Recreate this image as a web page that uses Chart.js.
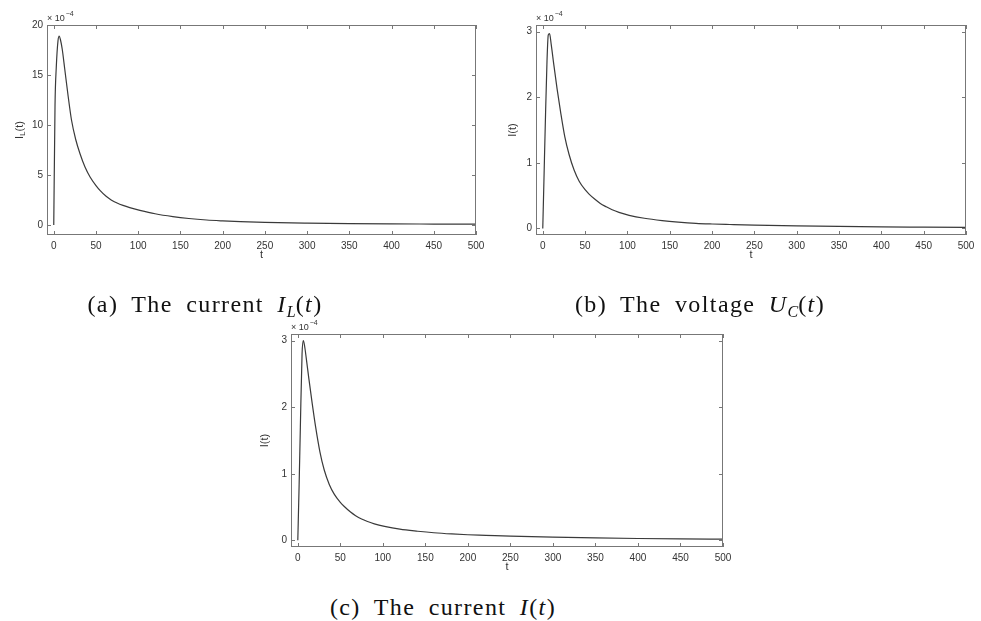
<!DOCTYPE html>
<html>
<head>
<meta charset="utf-8">
<script src="https://cdn.jsdelivr.net/npm/chart.js@4.4.1/dist/chart.umd.min.js"></script>
<style>
  html, body { margin: 0; padding: 0; background: #fff; }
  body { width: 981px; height: 621px; position: relative; overflow: hidden; }
  .panel { position: absolute; }
  .caption {
    position: absolute;
    font-family: "Liberation Serif", "DejaVu Serif", serif;
    font-size: 24px;
    color: #111;
    white-space: nowrap;
    transform: translate(-50%, -50%);
    letter-spacing: 1.4px;
    word-spacing: 6px;
  }
  .caption sub { font-size: 16px; vertical-align: -5px; line-height: 0; letter-spacing: 0; }
</style>
</head>
<body>
<div class="panel" style="left:0px;top:0px;width:490px;height:270px;"><canvas id="chartA"></canvas></div>
<div class="panel" style="left:490px;top:0px;width:491px;height:270px;"><canvas id="chartB"></canvas></div>
<div class="panel" style="left:230px;top:310px;width:510px;height:270px;"><canvas id="chartC"></canvas></div>

<div class="caption" style="left:205px;top:304px;">(a) The current <i>I</i><sub><i>L</i></sub>(<i>t</i>)</div>
<div class="caption" style="left:700px;top:304px;">(b) The voltage <i>U</i><sub><i>C</i></sub>(<i>t</i>)</div>
<div class="caption" style="left:443px;top:607px;">(c) The current <i>I</i>(<i>t</i>)</div>

<script>
// time samples
const tValues = [0, 1.5, 3, 5, 6.5, 8, 10, 13, 17, 21, 26, 31, 37, 43, 50, 55, 62, 68, 75, 82, 90, 102, 120, 141, 160, 181, 200, 221, 250, 300, 350, 400, 450, 500];

// values in units of 10^-4
const currentIL = [0, 12, 15.8, 18.4, 18.9, 18.5, 17.6, 15.6, 12.9, 10.5, 8.55, 7.15, 5.8, 4.8, 3.94, 3.44, 2.87, 2.51, 2.2, 1.96, 1.74, 1.47, 1.125, 0.84, 0.65, 0.5, 0.41, 0.33, 0.26, 0.19, 0.143, 0.115, 0.096, 0.08];
const voltageUC = [0, 0.8, 1.6, 2.55, 2.95, 2.97, 2.8, 2.5, 2.12, 1.78, 1.4, 1.13, 0.89, 0.72, 0.59, 0.52, 0.44, 0.38, 0.33, 0.285, 0.245, 0.2, 0.155, 0.12, 0.097, 0.078, 0.068, 0.06, 0.05, 0.038, 0.03, 0.024, 0.02, 0.016];
const currentI = [0, 0.8, 1.7, 2.8, 3.0, 2.92, 2.73, 2.43, 2.05, 1.7, 1.33, 1.06, 0.84, 0.69, 0.57, 0.505, 0.425, 0.37, 0.32, 0.283, 0.248, 0.21, 0.168, 0.137, 0.114, 0.096, 0.084, 0.075, 0.062, 0.047, 0.036, 0.028, 0.022, 0.018];

const xTicks = [0, 50, 100, 150, 200, 250, 300, 350, 400, 450, 500];
const yTicksIL = [0, 5, 10, 15, 20];
const yTicksSmall = [0, 1, 2, 3];

const tickFont = { family: "'Liberation Sans', Arial, sans-serif", size: 10 };
const inkColor = "#333";
const boxColor = "#777";

// box with inward ticks on all sides, axis titles and the exponent note
const framePlugin = {
  id: "frame",
  afterDraw(chart, args, opts) {
    const { ctx, chartArea: a, scales } = chart;
    const x = scales.x, y = scales.y;
    ctx.save();
    ctx.strokeStyle = boxColor;
    ctx.lineWidth = 1;
    ctx.strokeRect(a.left + 0.5, a.top + 0.5, a.right - a.left - 1, a.bottom - a.top - 1);
    ctx.beginPath();
    x.ticks.forEach((t) => {
      const px = Math.round(x.getPixelForValue(t.value)) + 0.5;
      ctx.moveTo(px, a.bottom); ctx.lineTo(px, a.bottom - 4);
      ctx.moveTo(px, a.top); ctx.lineTo(px, a.top + 4);
    });
    y.ticks.forEach((t) => {
      const py = Math.round(y.getPixelForValue(t.value)) + 0.5;
      ctx.moveTo(a.left, py); ctx.lineTo(a.left + 4, py);
      ctx.moveTo(a.right, py); ctx.lineTo(a.right - 4, py);
    });
    ctx.stroke();

    ctx.fillStyle = inkColor;
    ctx.font = "11px 'Liberation Sans', Arial, sans-serif";
    ctx.textAlign = "center";
    ctx.textBaseline = "middle";
    ctx.fillText("t", (a.left + a.right) / 2, a.bottom + 20);

    // y title, rotated
    ctx.save();
    ctx.translate(a.left - opts.yTitleOffset, (a.top + a.bottom) / 2);
    ctx.rotate(-Math.PI / 2);
    ctx.textAlign = "left";
    const parts = opts.yTitle;
    let w = 0;
    parts.forEach((p) => { ctx.font = (p.sub ? "8px" : "11px") + " 'Liberation Sans', Arial, sans-serif"; w += ctx.measureText(p.text).width; });
    let cx = -w / 2;
    parts.forEach((p) => {
      ctx.font = (p.sub ? "8px" : "11px") + " 'Liberation Sans', Arial, sans-serif";
      ctx.fillText(p.text, cx, p.sub ? 3 : 0);
      cx += ctx.measureText(p.text).width;
    });
    ctx.restore();

    // exponent note
    ctx.textAlign = "left";
    ctx.textBaseline = "alphabetic";
    ctx.font = "9px 'Liberation Sans', Arial, sans-serif";
    ctx.fillText("\u00d7 10", a.left, a.top - 4);
    const bw = ctx.measureText("\u00d7 10").width;
    ctx.font = "7px 'Liberation Sans', Arial, sans-serif";
    ctx.fillText("\u22124", a.left + bw + 1, a.top - 9);
    ctx.restore();
  },
};

function makeChart(canvasId, series, yTicks, yMin, yMax, area, frameOpts) {
  const points = tValues.map((t, i) => ({ x: t, y: series[i] }));
  return new Chart(document.getElementById(canvasId), {
    type: "line",
    data: {
      datasets: [
        {
          data: points,
          borderColor: "#3a3a3a",
          borderWidth: 1.2,
          pointRadius: 0,
          cubicInterpolationMode: "monotone",
          fill: false,
        },
      ],
    },
    options: {
      responsive: true,
      maintainAspectRatio: false,
      animation: false,
      layout: { padding: { top: area.top, right: area.right, left: 0, bottom: 0 } },
      plugins: { legend: { display: false }, tooltip: { enabled: false }, frame: frameOpts },
      scales: {
        x: {
          type: "linear",
          min: -8,
          max: 500,
          grid: { display: false, drawTicks: false },
          border: { display: false },
          ticks: { font: tickFont, color: inkColor, padding: 5, maxRotation: 0 },
          afterBuildTicks: (s) => { s.ticks = xTicks.map((v) => ({ value: v })); },
          afterFit: (s) => { s.height = area.bottom; },
        },
        y: {
          type: "linear",
          min: yMin,
          max: yMax,
          grid: { display: false, drawTicks: false },
          border: { display: false },
          ticks: { font: tickFont, color: inkColor, padding: 4 },
          afterBuildTicks: (s) => { s.ticks = yTicks.map((v) => ({ value: v })); },
          afterFit: (s) => { s.width = area.left; },
        },
      },
    },
    plugins: [framePlugin],
  });
}

makeChart("chartA", currentIL, yTicksIL, -1, 20,
  { left: 47, top: 25, right: 14, bottom: 35 },
  { yTitleOffset: 27, yTitle: [{ text: "I" }, { text: "L", sub: true }, { text: "(t)" }] });

makeChart("chartB", voltageUC, yTicksSmall, -0.1, 3.1,
  { left: 46, top: 25, right: 15, bottom: 35 },
  { yTitleOffset: 23, yTitle: [{ text: "I(t)" }] });

makeChart("chartC", currentI, yTicksSmall, -0.1, 3.1,
  { left: 61, top: 24, right: 17, bottom: 33 },
  { yTitleOffset: 26, yTitle: [{ text: "I(t)" }] });
</script>
</body>
</html>
